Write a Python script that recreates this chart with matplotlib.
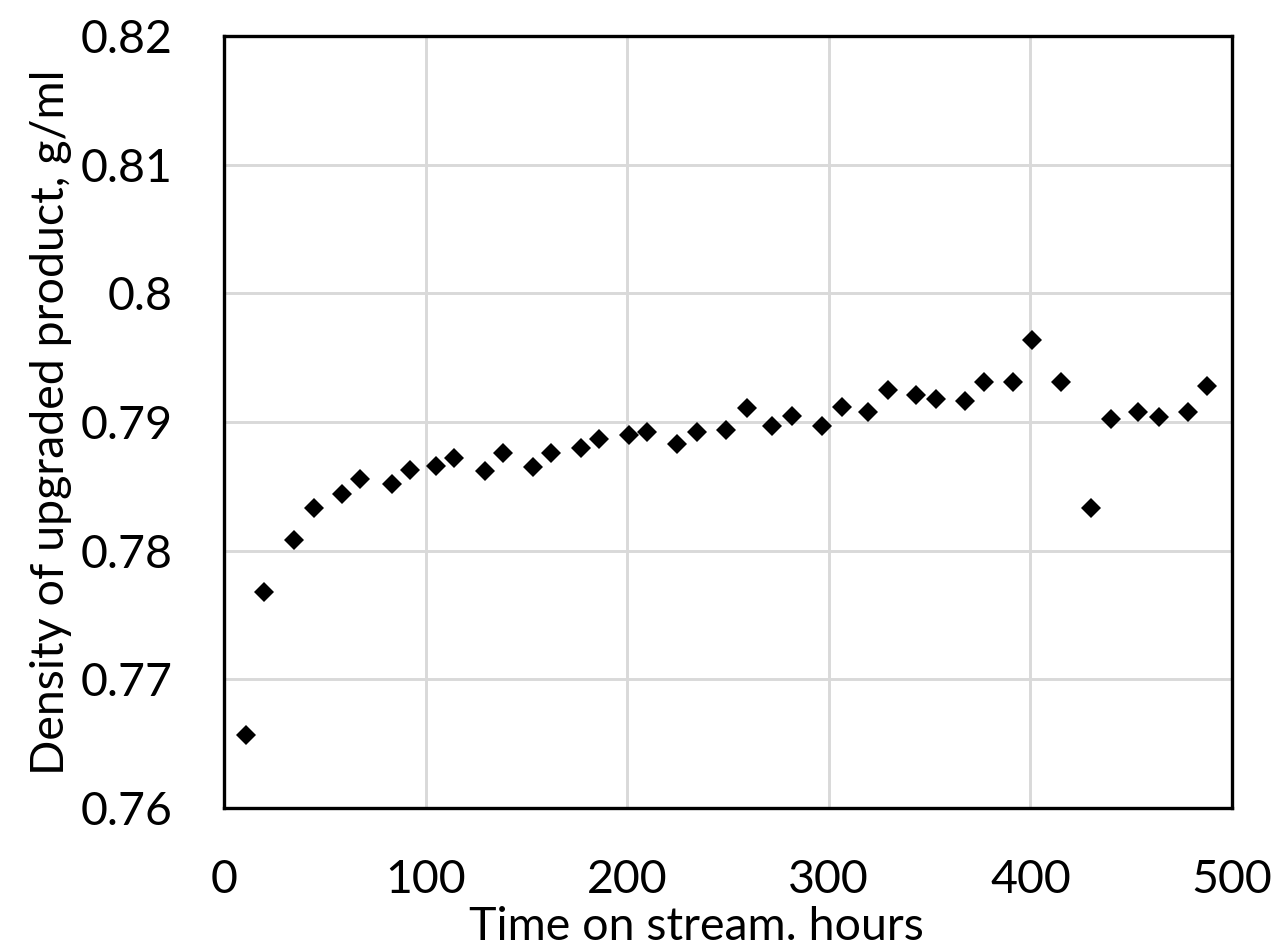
import matplotlib
matplotlib.use("Agg")
import matplotlib.pyplot as plt

# time on stream, hours
hours = [10.8, 19.7, 34.7, 44.5, 58.6, 67.4, 83.2, 92.2, 105.4, 114.3,
         129.3, 138.2, 153.3, 162.2, 177.2, 186.1, 201.1, 209.8, 224.9, 234.7,
         248.8, 259.5, 271.8, 281.6, 296.6, 306.4, 319.5, 329.2, 343.5, 353.1,
         367.4, 377.1, 391.4, 400.9, 415.2, 430.3, 440.1, 453.2, 463.9, 478.0,
         487.5]
# density of upgraded product, g/ml
density = [0.7657, 0.7768, 0.7808, 0.7833, 0.7844, 0.7856, 0.7852, 0.7863, 0.7866, 0.7872,
           0.7862, 0.7876, 0.7865, 0.7876, 0.7880, 0.7887, 0.7890, 0.7892, 0.7883, 0.7892,
           0.7894, 0.7911, 0.7897, 0.7905, 0.7897, 0.7912, 0.7908, 0.7925, 0.7921, 0.7918,
           0.7916, 0.7931, 0.7931, 0.7964, 0.7931, 0.7833, 0.7902, 0.7908, 0.7904, 0.7908,
           0.7928]

x_ticks = [0, 100, 200, 300, 400, 500]
y_ticks = [0.76, 0.77, 0.78, 0.79, 0.80, 0.81, 0.82]
y_tick_labels = ["0.76", "0.77", "0.78", "0.79", "0.8", "0.81", "0.82"]

plt.rcParams["font.family"] = ["Lato", "DejaVu Sans"]

fig = plt.figure(figsize=(12.79, 9.48), dpi=100)
ax = fig.add_axes([224 / 1279, 1 - 808 / 948, 1008 / 1279, 772 / 948])

ax.plot(hours, density, linestyle="none", marker="D", markersize=10.5,
        color="black", markeredgewidth=0, zorder=3)

ax.set_xlim(0, 500)
ax.set_ylim(0.76, 0.82)
ax.set_xticks(x_ticks)
ax.set_yticks(y_ticks)
ax.set_yticklabels(y_tick_labels)
ax.grid(True, color="#d9d9d9", linewidth=2.1)
ax.set_axisbelow(True)
for spine in ax.spines.values():
    spine.set_linewidth(2.4)
    spine.set_color("black")
ax.tick_params(length=0, pad=37, labelsize=33.5)

ax.set_xlabel("Time on stream. hours", fontsize=33.5)
ax.set_ylabel("Density of upgraded product, g/ml", fontsize=33.5)
ax.xaxis.set_label_coords(0.469, -0.127)
ax.yaxis.set_label_coords(-0.151, 0.5)

fig.savefig("out.png", dpi=100)
